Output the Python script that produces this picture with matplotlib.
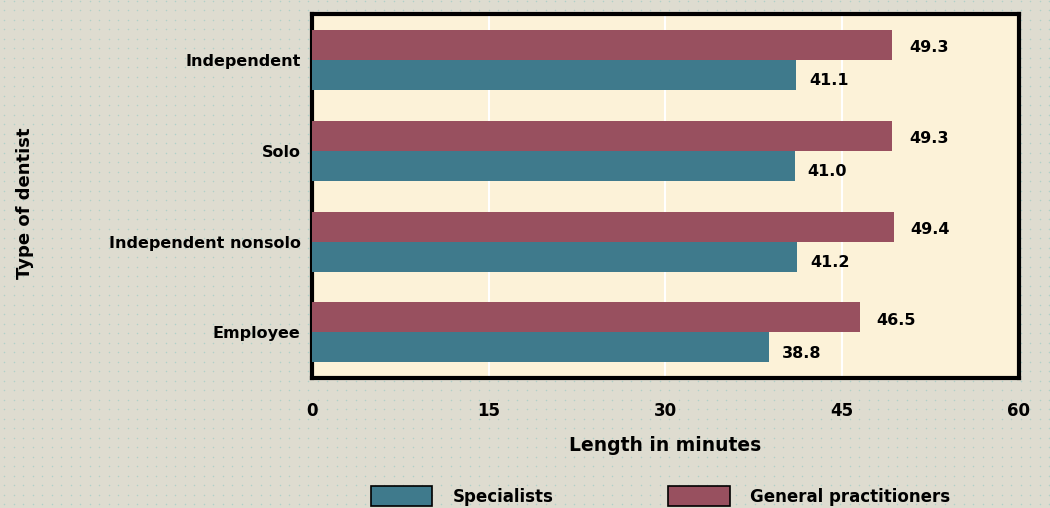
import matplotlib.pyplot as plt
import numpy as np
from matplotlib.patches import Patch

# Visit length by type of dentist
categories = ['Independent', 'Solo', 'Independent nonsolo', 'Employee']
general = [49.3, 49.3, 49.4, 46.5]
specialists = [41.1, 41.0, 41.2, 38.8]
xticks = [0, 15, 30, 45, 60]

bg = '#dedcd0'
panel = '#fcf2d8'
maroon = '#98505f'
teal = '#3f7a8c'

plt.rcParams['font.family'] = 'DejaVu Sans'
plt.rcParams['font.weight'] = 'bold'

fig = plt.figure(figsize=(10.5, 5.08), dpi=100, facecolor=bg)

# dotted paper texture behind everything
bgax = fig.add_axes([0, 0, 1, 1], zorder=-1)
gx, gy = np.meshgrid(np.arange(4, 1050, 9.5), np.arange(4, 508, 9.5))
bgax.scatter(gx.ravel(), gy.ravel(), s=1.2, color='#b0d0c8', lw=0)
bgax.set_xlim(0, 1050)
bgax.set_ylim(0, 508)
bgax.axis('off')

ax = fig.add_axes([0.297, 0.256, 0.673, 0.716])
ax.set_facecolor(panel)

y = np.arange(len(categories))
h = 0.33
ax.barh(y - h / 2, general, height=h, color=maroon, zorder=3)
ax.barh(y + h / 2, specialists, height=h, color=teal, zorder=3)

for yi, g, s in zip(y, general, specialists):
    ax.text(g + 1.4, yi - h * 0.4, '%.1f' % g, va='center', ha='left',
            fontsize=11.5, fontweight='bold', zorder=4)
    ax.text(s + 1.1, yi + h * 0.7, '%.1f' % s, va='center', ha='left',
            fontsize=11.5, fontweight='bold', zorder=4)

ax.set_xlim(0, 60)
ax.set_ylim(3.5, -0.5)
ax.set_xticks(xticks)
ax.set_xticklabels([str(t) for t in xticks], fontsize=12, fontweight='bold')
ax.set_yticks(y)
ax.set_yticklabels(categories, fontsize=11.5, fontweight='bold')
ax.tick_params(axis='x', length=0, pad=17)
ax.tick_params(axis='y', length=0, pad=8)
for xv in xticks[1:-1]:
    ax.axvline(xv, color='white', lw=1.5, zorder=1)

for sp in ax.spines.values():
    sp.set_linewidth(3)
    sp.set_color('black')

ax.set_xlabel('Length in minutes', fontsize=13.5, fontweight='bold', labelpad=12)
fig.text(0.024, 0.6, 'Type of dentist', rotation=90, va='center', ha='center',
         fontsize=13, fontweight='bold')

handles = [Patch(facecolor=teal, edgecolor='black', lw=1.2),
           Patch(facecolor=maroon, edgecolor='black', lw=1.2)]
fig.legend(handles, ['Specialists', 'General practitioners'], ncol=2,
           loc='lower center', bbox_to_anchor=(0.629, -0.026), frameon=False,
           handlelength=3.7, handleheight=1.5, columnspacing=6.9,
           handletextpad=1.2, prop={'size': 12, 'weight': 'bold'})

fig.savefig('out.png', dpi=100, facecolor=bg)
